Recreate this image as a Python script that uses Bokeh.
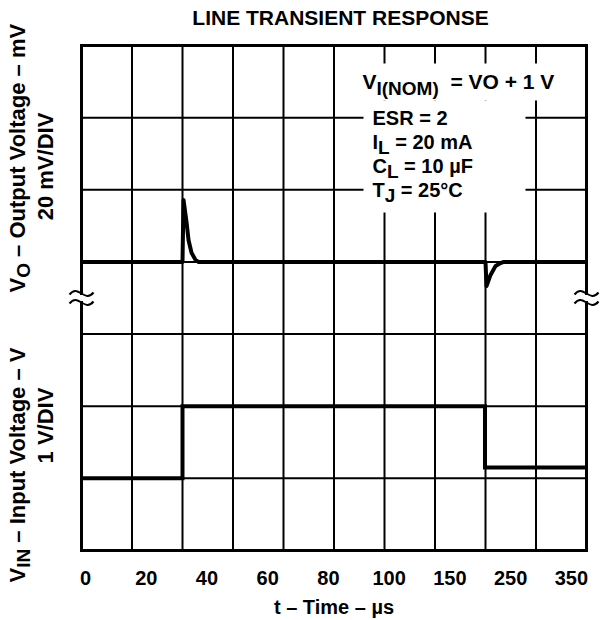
import math
from bokeh.plotting import figure
from bokeh.models import Range1d, Label, BoxAnnotation
from bokeh.core.properties import value
from bokeh.embed import file_html
from bokeh.resources import INLINE

# ---------------- data (time in grid divisions) ----------------
t_out = [0.0, 2.0, 2.02, 2.08, 2.12, 2.18, 2.26, 2.32, 8.0, 8.02, 8.10, 8.20, 8.30, 8.36, 10.0]
v_out_mv = [0, 0, 17.2, 11.0, 6.0, 2.5, 0.5, 0, 0, -6.7, -3.6, -1.1, -0.3, 0, 0]
t_in = [0.0, 2.0, 2.0, 7.99, 7.99, 10.0]
v_in = [1.0, 1.0, 2.0, 2.0, 1.15, 1.15]
tick_labels = ["0", "20", "40", "60", "80", "100", "150", "250", "350"]
conditions = ["ESR = 2", "I|L| = 20 mA", "C|L| = 10 µF", "T|J| = 25°C"]

# ---------------- layout helpers ----------------
W, H = 612, 620
X0, X1, Y0, Y1 = 81, 586, 45, 550
NX, NY = 10, 7
PXX = (X1 - X0) / NX
PYY = (Y1 - Y0) / NY
FONT = "Liberation Sans"
BSHIFT = 8  # empirical baseline correction (px)

def dx(px):
    return (px - X0) / PXX

def dy(py):
    return (Y1 - py) / PYY

AW = {'V': 667, 'I': 278, '(': 333, 'N': 722, 'O': 778, 'M': 833, ')': 333, ' ': 278,
      '=': 584, '+': 584, '1': 556, 'E': 667, 'S': 667, 'R': 722, '2': 556, 'L': 611,
      '0': 556, 'm': 889, 'A': 722, 'C': 722, 'µ': 611, 'F': 611, 'T': 611, 'J': 556,
      '5': 556, '°': 400, '–': 556, 'u': 611, 't': 333, 'p': 611, 'o': 611, 'l': 278,
      'a': 556, 'g': 611, 'e': 556, 'n': 611, '/': 278, 'D': 722, 'i': 278, 's': 556}

def tw(text, size):
    return sum(AW.get(c, 556) for c in text) * size / 1000.0

p = figure(width=W, height=H, x_range=Range1d(dx(0), dx(W)), y_range=Range1d(dy(H), dy(0)),
           min_border=0, toolbar_location=None, output_backend="svg",
           x_axis_location=None, y_axis_location=None, title=None)
div_lo, div_hi = dy(H), dy(0)
p.extra_y_ranges = {"vout": Range1d((div_lo - 4) * 20, (div_hi - 4) * 20),
                    "vin": Range1d(div_lo, div_hi)}
p.outline_line_color = None
p.background_fill_color = "white"
p.border_fill_color = "white"
p.grid.visible = False

# grid lines (one per division)
gx = list(range(1, NX))
gy = list(range(1, NY))
p.segment(x0=gx, y0=[0] * len(gx), x1=gx, y1=[NY] * len(gx), line_color="black", line_width=2)
p.segment(x0=[0] * len(gy), y0=gy, x1=[NX] * len(gy), y1=gy, line_color="black", line_width=2)

# white backgrounds behind condition text
p.add_layout(BoxAnnotation(left=dx(358), right=dx(562), top=dy(63), bottom=dy(100),
                           fill_color="white", fill_alpha=1, line_color=None, level="glyph"))
p.add_layout(BoxAnnotation(left=dx(363), right=dx(525), top=dy(100), bottom=dy(212),
                           fill_color="white", fill_alpha=1, line_color=None, level="glyph"))

# frame with breaks
gap_top, gap_bot = 293, 302
fx0 = [0, 0, 0, 0, NX, NX]
fy0 = [0, NY, 0, dy(gap_top), 0, dy(gap_top)]
fx1 = [NX, NX, 0, 0, NX, NX]
fy1 = [0, NY, dy(gap_bot), NY, dy(gap_bot), NY]
p.segment(x0=fx0, y0=fy0, x1=fx1, y1=fy1, line_color="black", line_width=3, line_cap="square")

# break marks (two tildes on each side)
bx0, by0, bx1, by1, bcx0, bcy0, bcx1, bcy1 = [], [], [], [], [], [], [], []
for xb in (X0, X1):
    for yb in (gap_top, gap_bot):
        bx0.append(dx(xb - 12)); by0.append(dy(yb + 1))
        bx1.append(dx(xb + 12)); by1.append(dy(yb - 1))
        bcx0.append(dx(xb - 3)); bcy0.append(dy(yb - 10))
        bcx1.append(dx(xb + 3)); bcy1.append(dy(yb + 10))
p.bezier(x0=bx0, y0=by0, x1=bx1, y1=by1, cx0=bcx0, cy0=bcy0, cx1=bcx1, cy1=bcy1,
         line_color="black", line_width=2)

# traces
p.line(t_out, v_out_mv, y_range_name="vout", line_color="black", line_width=4, line_join="round")
p.line(t_in, v_in, y_range_name="vin", line_color="black", line_width=4, line_join="miter")

# x tick labels
tick_pos = [0.08 + 1.2025 * i for i in range(len(tick_labels))]
p.text(x=tick_pos, y=[dy(585 - BSHIFT)] * len(tick_pos), text=tick_labels,
       text_font=value(FONT), text_font_size="20px", text_font_style="bold",
       text_align="center", text_baseline="alphabetic", text_color="black")


def lab(text, px, py, size, angle=0.0, align="left"):
    if angle == 0.0:
        py = py - BSHIFT
    else:
        px = px - BSHIFT
    p.add_layout(Label(x=dx(px), y=dy(py), text=text, text_font=FONT,
                       text_font_size=f"{size}px", text_font_style="bold",
                       text_align=align, text_baseline="alphabetic", angle=angle,
                       text_color="black"))


def hparts(parts, px, py, size, sub_size, sub_drop):
    x = px
    for i, part in enumerate(parts):
        if part == "":
            continue
        sz = sub_size if i % 2 == 1 else size
        lead = len(part) - len(part.lstrip(" "))
        x += tw(" " * lead, sz)
        part = part.lstrip(" ")
        lab(part, x, py + (sub_drop if i % 2 == 1 else 0), sz)
        x += tw(part, sz)


def vparts(parts, px, py, size, sub_size, sub_shift):
    y = py
    for i, part in enumerate(parts):
        if part == "":
            continue
        sz = sub_size if i % 2 == 1 else size
        lead = len(part) - len(part.lstrip(" "))
        y -= tw(" " * lead, sz)
        part = part.lstrip(" ")
        lab(part, px + (sub_shift if i % 2 == 1 else 0), y, sz, angle=math.pi / 2)
        y -= tw(part, sz)


# axis title and chart title
lab("t – Time – µs", (X0 + X1) / 2, 614, 20, align="center")
lab("LINE TRANSIENT RESPONSE", 340, 25, 21, align="center")

# condition text
hparts(["V", "I(NOM)", "  = VO + 1 V"], 362, 89, 21, 19, 7)
for k, c in enumerate(conditions):
    hparts(c.split("|"), 372, 125 + 24 * k, 20, 19, 6)

# left labels
vparts(["V", "O", " – Output Voltage – mV"], 25, 292, 22, 19, 6)
lab("20 mV/DIV", 53, 166, 22, angle=math.pi / 2, align="center")
vparts(["V", "IN", " – Input Voltage – V"], 25, 582, 22, 19, 6)
lab("1 V/DIV", 53, 425, 22, angle=math.pi / 2, align="center")

open("out.html", "w").write(file_html(p, INLINE))
